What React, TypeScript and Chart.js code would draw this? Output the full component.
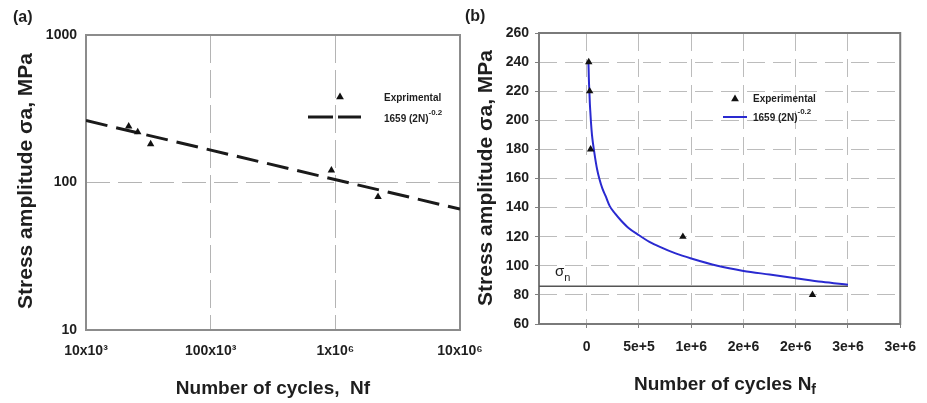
import React, { useEffect, useRef } from 'react';
import { Chart, registerables } from 'chart.js';
Chart.register(...registerables);

// ---------- Panel (a): log-log S-N plot ----------
const cyclesA = [22000, 26000, 33000, 930000, 2200000];
const stressA = [240, 220, 182, 121, 80];
const fitCyclesA = [10000, 10000000];
const fitStressA = [263, 66];
const xTickValuesA = [10000, 100000, 1000000, 10000000];
const xTickLabelsA = ['10x10³', '100x10³', '1x10⁶', '10x10⁶'];
const yTickValuesA = [10, 100, 1000];
const yTickLabelsA = ['10', '100', '1000'];

// ---------- Panel (b): linear S-N plot ----------
const cyclesB = [19000, 28000, 37000, 920000, 2160000];
const stressB = [240, 220, 180, 120, 80];
const curveCyclesB = [16000, 18000, 20000, 23000, 26000, 30000, 35000, 40000, 50000, 60000, 70000, 85000, 100000, 120000, 150000, 180000, 220000, 270000, 330000, 400000, 500000, 600000, 700000, 850000, 1000000, 1250000, 1500000, 1750000, 2000000, 2250000, 2500000];
const curveStressB = [240, 235, 229, 223, 218, 211, 205, 199, 190, 184, 179, 172, 166, 160, 153, 148, 141, 136, 131, 126, 121, 116.5, 113, 108.5, 105, 100, 96.5, 94, 91.5, 89, 87];
const sigmaN = 86;
const sigmaNCycles = [-457000, 2500000];
const xTickValuesB = [0, 500000, 1000000, 1500000, 2000000, 2500000, 3000000];
const xTickLabelsB = ['0', '5e+5', '1e+6', '2e+6', '2e+6', '3e+6', '3e+6'];
const yTickValuesB = [60, 80, 100, 120, 140, 160, 180, 200, 220, 240, 260];

const FONT = '"Liberation Sans", Arial, Helvetica, sans-serif';
const TEXT = '#1e1e1e';

type Seg = { t: string; size: number; dy?: number; bold?: boolean };
const segFont = (s: Seg) => `${s.bold === false ? '' : 'bold '}${s.size}px ${FONT}`;

function drawRich(ctx: CanvasRenderingContext2D, segs: Seg[], x: number, y: number, align: 'left' | 'center') {
  let w = 0;
  for (const s of segs) { ctx.font = segFont(s); w += ctx.measureText(s.t).width; }
  let cx = align === 'center' ? x - w / 2 : x;
  ctx.textAlign = 'left';
  for (const s of segs) {
    ctx.font = segFont(s);
    ctx.fillText(s.t, cx, y + (s.dy || 0));
    cx += ctx.measureText(s.t).width;
  }
}

function drawTriangle(ctx: CanvasRenderingContext2D, x: number, y: number, r: number) {
  ctx.beginPath();
  ctx.moveTo(x, y - r);
  ctx.lineTo(x + r * 0.866, y + r * 0.5);
  ctx.lineTo(x - r * 0.866, y + r * 0.5);
  ctx.closePath();
  ctx.fill();
}

const tickFont = { family: FONT, size: 14, weight: 'bold' as const };

function frame(chart: any, color: string) {
  const { ctx, chartArea: a } = chart;
  ctx.save();
  ctx.strokeStyle = color;
  ctx.lineWidth = 2;
  ctx.setLineDash([]);
  ctx.strokeRect(a.left, a.top, a.right - a.left, a.bottom - a.top);
  ctx.restore();
}

function configA(): any {
  const edgeX = (v: number) => v === 10000 || v === 10000000;
  const edgeY = (v: number) => v === 10 || v === 1000;
  return {
    type: 'line',
    data: {
      datasets: [
        {
          label: 'Exprimental',
          data: cyclesA.map((x, i) => ({ x, y: stressA[i] })),
          showLine: false,
          pointStyle: 'triangle',
          pointRadius: 4.3,
          backgroundColor: '#111',
          borderColor: '#111',
          borderWidth: 0,
        },
        {
          label: '1659 (2N)^-0.2',
          data: fitCyclesA.map((x, i) => ({ x, y: fitStressA[i] })),
          borderColor: '#1a1a1a',
          borderWidth: 3,
          borderDash: [22, 9],
          pointRadius: 0,
          fill: false,
        },
      ],
    },
    options: {
      responsive: false,
      animation: false,
      events: [],
      layout: { padding: { left: 0, top: 35, right: 40, bottom: 0 } },
      plugins: { legend: { display: false }, tooltip: { enabled: false } },
      scales: {
        x: {
          type: 'logarithmic',
          min: 10000,
          max: 10000000,
          afterBuildTicks: (s: any) => { s.ticks = xTickValuesA.map((v) => ({ value: v })); },
          afterFit: (s: any) => { s.height = 73; },
          ticks: {
            autoSkip: false,
            maxRotation: 0,
            padding: 13,
            color: TEXT,
            font: tickFont,
            callback: (v: number) => xTickLabelsA[xTickValuesA.indexOf(v)],
          },
          grid: {
            drawTicks: false,
            lineWidth: 1,
            color: (c: any) => (c.tick && edgeX(c.tick.value) ? 'rgba(0,0,0,0)' : '#b4b4b4'),
          },
          border: { display: false, dash: [28, 7] },
        },
        y: {
          type: 'logarithmic',
          min: 10,
          max: 1000,
          afterBuildTicks: (s: any) => { s.ticks = yTickValuesA.map((v) => ({ value: v })); },
          afterFit: (s: any) => { s.width = 86; },
          ticks: {
            autoSkip: false,
            padding: 9,
            color: TEXT,
            font: tickFont,
            callback: (v: number) => yTickLabelsA[yTickValuesA.indexOf(v)],
          },
          grid: {
            drawTicks: false,
            lineWidth: 1,
            color: (c: any) => (c.tick && edgeY(c.tick.value) ? 'rgba(0,0,0,0)' : '#b4b4b4'),
          },
          border: { display: false, dash: [24, 8] },
        },
      },
    },
    plugins: [
      {
        id: 'decorA',
        beforeDatasetsDraw: (chart: any) => frame(chart, '#8c8c8c'),
        afterDraw: (chart: any) => {
          const ctx: CanvasRenderingContext2D = chart.ctx;
          ctx.save();
          ctx.fillStyle = TEXT;
          ctx.textBaseline = 'alphabetic';
          drawRich(ctx, [{ t: '(a)', size: 16 }], 13, 22, 'left');
          drawRich(ctx, [{ t: 'Number of cycles,  Nf', size: 19 }], 273, 394, 'center');
          ctx.save();
          ctx.translate(32, 181);
          ctx.rotate(-Math.PI / 2);
          drawRich(ctx, [{ t: 'Stress amplitude σa, MPa', size: 21 }], 0, 0, 'center');
          ctx.restore();
          // legend
          ctx.fillStyle = '#111';
          drawTriangle(ctx, 340, 97, 4.5);
          ctx.strokeStyle = '#1a1a1a';
          ctx.lineWidth = 3;
          ctx.setLineDash([25, 5]);
          ctx.beginPath();
          ctx.moveTo(308, 117);
          ctx.lineTo(361, 117);
          ctx.stroke();
          ctx.setLineDash([]);
          ctx.fillStyle = TEXT;
          ctx.textBaseline = 'middle';
          drawRich(ctx, [{ t: 'Exprimental', size: 10 }], 384, 98, 'left');
          drawRich(ctx, [{ t: '1659 (2N)', size: 10 }, { t: '-0.2', size: 8, dy: -6 }], 384, 119, 'left');
          ctx.restore();
        },
      },
    ],
  };
}

function configB(): any {
  const edgeX = (v: number) => v === 3000000;
  const edgeY = (v: number) => v === 60 || v === 260;
  return {
    type: 'line',
    data: {
      datasets: [
        {
          label: 'Experimental',
          data: cyclesB.map((x, i) => ({ x, y: stressB[i] })),
          showLine: false,
          pointStyle: 'triangle',
          pointRadius: 4.3,
          backgroundColor: '#111',
          borderColor: '#111',
          borderWidth: 0,
        },
        {
          label: '1659 (2N)^-0.2',
          data: curveCyclesB.map((x, i) => ({ x, y: curveStressB[i] })),
          borderColor: '#2a2ad0',
          borderWidth: 2,
          pointRadius: 0,
          cubicInterpolationMode: 'monotone',
          fill: false,
        },
        {
          label: 'sigma_n',
          data: sigmaNCycles.map((x) => ({ x, y: sigmaN })),
          borderColor: '#555555',
          borderWidth: 1.5,
          pointRadius: 0,
          fill: false,
        },
      ],
    },
    options: {
      responsive: false,
      animation: false,
      events: [],
      layout: { padding: { left: 0, top: 33, right: 17, bottom: 0 } },
      plugins: { legend: { display: false }, tooltip: { enabled: false } },
      scales: {
        x: {
          type: 'linear',
          min: -457000,
          max: 3000000,
          afterBuildTicks: (s: any) => { s.ticks = xTickValuesB.map((v) => ({ value: v })); },
          afterFit: (s: any) => { s.height = 79; },
          ticks: {
            autoSkip: false,
            maxRotation: 0,
            padding: 11,
            color: TEXT,
            font: tickFont,
            callback: (v: number) => xTickLabelsB[xTickValuesB.indexOf(v)],
          },
          grid: {
            drawTicks: true,
            tickLength: 4,
            tickColor: '#808080',
            lineWidth: 1,
            color: (c: any) => (c.tick && edgeX(c.tick.value) ? 'rgba(0,0,0,0)' : '#bcbcbc'),
          },
          border: { display: false, dash: [18, 8] },
        },
        y: {
          type: 'linear',
          min: 60,
          max: 260,
          afterBuildTicks: (s: any) => { s.ticks = yTickValuesB.map((v) => ({ value: v })); },
          afterFit: (s: any) => { s.width = 76; },
          ticks: {
            autoSkip: false,
            padding: 6,
            color: TEXT,
            font: tickFont,
          },
          grid: {
            drawTicks: true,
            tickLength: 4,
            tickColor: '#808080',
            lineWidth: 1,
            color: (c: any) => (c.tick && edgeY(c.tick.value) ? 'rgba(0,0,0,0)' : '#bcbcbc'),
          },
          border: { display: false, dash: [18, 8] },
        },
      },
    },
    plugins: [
      {
        id: 'decorB',
        beforeDatasetsDraw: (chart: any) => frame(chart, '#7a7a7a'),
        afterDraw: (chart: any) => {
          const ctx: CanvasRenderingContext2D = chart.ctx;
          ctx.save();
          ctx.fillStyle = TEXT;
          ctx.textBaseline = 'alphabetic';
          drawRich(ctx, [{ t: '(b)', size: 16 }], 2, 21, 'left');
          drawRich(ctx, [{ t: 'Number of cycles N', size: 19 }, { t: 'f', size: 14, dy: 4 }], 262, 390, 'center');
          ctx.save();
          ctx.translate(29, 178);
          ctx.rotate(-Math.PI / 2);
          drawRich(ctx, [{ t: 'Stress amplitude σa, MPa', size: 21 }], 0, 0, 'center');
          ctx.restore();
          // sigma_n label
          drawRich(ctx, [{ t: 'σ', size: 15, bold: false }, { t: 'n', size: 11, dy: 5, bold: false }], 92, 276, 'left');
          // legend
          ctx.fillStyle = '#111';
          drawTriangle(ctx, 272, 99, 4.5);
          ctx.strokeStyle = '#2a2ad0';
          ctx.lineWidth = 2;
          ctx.beginPath();
          ctx.moveTo(260, 117);
          ctx.lineTo(284, 117);
          ctx.stroke();
          ctx.fillStyle = TEXT;
          ctx.textBaseline = 'middle';
          drawRich(ctx, [{ t: 'Experimental', size: 10 }], 290, 99, 'left');
          drawRich(ctx, [{ t: '1659 (2N)', size: 10 }, { t: '-0.2', size: 8, dy: -6 }], 290, 118, 'left');
          ctx.restore();
        },
      },
    ],
  };
}

export default function App() {
  const refA = useRef<HTMLCanvasElement>(null);
  const refB = useRef<HTMLCanvasElement>(null);
  useEffect(() => {
    const a = new Chart(refA.current as HTMLCanvasElement, configA());
    const b = new Chart(refB.current as HTMLCanvasElement, configB());
    return () => { a.destroy(); b.destroy(); };
  }, []);
  return (
    <div style={{ position: 'fixed', left: 0, top: 0, width: 927, height: 403, background: '#fff', overflow: 'hidden' }}>
      <canvas ref={refA} width={500} height={403} style={{ position: 'absolute', left: 0, top: 0, width: 500, height: 403 }} />
      <canvas ref={refB} width={464} height={403} style={{ position: 'absolute', left: 463, top: 0, width: 464, height: 403 }} />
    </div>
  );
}
